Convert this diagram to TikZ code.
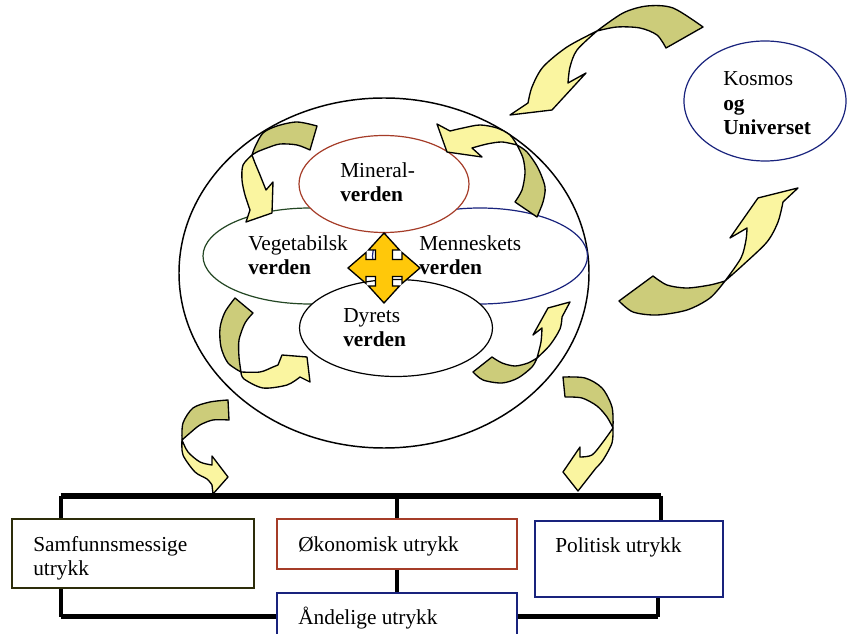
\documentclass[tikz,border=0pt]{standalone}
\usepackage{fontspec}
\setmainfont{Liberation Serif}
\usetikzlibrary{shapes.geometric}

\definecolor{minred}{RGB}{165,60,40}
\definecolor{veggreen}{RGB}{35,70,35}
\definecolor{menblue}{RGB}{25,35,125}
\definecolor{samfline}{RGB}{45,45,10}
\definecolor{frontyellow}{RGB}{250,245,160}
\definecolor{backolive}{RGB}{204,204,122}
\definecolor{crossgold}{RGB}{255,200,10}

\tikzset{
  world/.style={ellipse, draw, fill=white, inner sep=0pt, line width=0.9pt},
  txt/.style={anchor=base west, align=left, inner sep=0pt, font=\fontsize{16}{18.5}\selectfont},
  box/.style={rectangle, draw, fill=white, inner sep=0pt, line width=1.2pt},
  back/.style={draw=black, fill=backolive, line width=1pt, line join=round},
  front/.style={draw=black, fill=frontyellow, line width=1pt, line join=round},
  bus/.style={line width=4.5pt},
  drop/.style={line width=3pt},
}

\begin{document}
\begin{tikzpicture}[x=0.75pt, y=-0.75pt]
  \useasboundingbox (0,0) rectangle (847,634);

  % the big world and its four parts
  \node[world, line width=1.1pt, minimum width=307.5pt, minimum height=262.5pt] (sphere) at (384,273) {};
  \node[world, draw=veggreen, minimum width=160.5pt, minimum height=72pt] (veg) at (310,256) {};
  \node[world, draw=menblue, minimum width=161.25pt, minimum height=72pt] (men) at (480,256) {};
  \node[world, draw=minred, minimum width=127.5pt, minimum height=72.75pt] (min) at (384,184) {};
  \node[world, minimum width=144.75pt, minimum height=72.75pt] (dyr) at (396,328) {};

  % (base of a text node = its last line)
  \node[txt] (min-txt) at (340,202) {Mineral-\\\textbf{verden}};
  \node[txt] (veg-txt) at (248,275) {Vegetabilsk\\\textbf{verden}};
  \node[txt] (men-txt) at (419,275) {Menneskets\\\textbf{verden}};
  \node[txt] (dyr-txt) at (343,347) {Dyrets\\\textbf{verden}};

  % four way arrow in the middle
  \filldraw[fill=crossgold, line width=1pt, line join=miter, shift={(384,268)}]
    (0,-35) -- (15.5,-18) -- (8.5,-18) -- (8.5,-8.5) -- (18,-8.5) -- (18,-15.5) -- (36,0)
    -- (18,15.5) -- (18,8.5) -- (8.5,8.5) -- (8.5,18) -- (15.5,18) -- (0,35)
    -- (-15.5,18) -- (-8.5,18) -- (-8.5,8.5) -- (-18,8.5) -- (-18,15.5) -- (-36,0)
    -- (-18,-15.5) -- (-18,-8.5) -- (-8.5,-8.5) -- (-8.5,-18) -- (-15.5,-18) -- cycle;

  \node[world, draw=menblue, minimum width=121.5pt, minimum height=90pt] (kosmos) at (765,101) {};
  \node[txt] (kosmos-txt) at (723,135) {Kosmos\\\textbf{og}\\\textbf{Universet}};

  % curved arrows
  \filldraw[back] (597,31) -- plot[smooth] coordinates {(597,31) (623,13) (647,6) (673,8) (703,27)} -- (666,48)
    -- plot[smooth] coordinates {(666,48) (657,35) (640,28) (617,27) (597,31)} -- cycle;
  \filldraw[front] (597,31) -- plot[smooth] coordinates {(597,31) (567,47) (543,67) (532,87) (528,103)}
    -- (510,115) -- (552,110) -- (586,73) -- (568,83)
    -- plot[smooth] coordinates {(568,83) (570,67) (577,50) (597,31)} -- cycle;

  \filldraw[back] (725,281) -- plot[smooth] coordinates {(725,281) (710,298) (687,310) (657,315) (633,312) (619,301)} -- (653,276)
    -- plot[smooth] coordinates {(653,276) (667,285) (687,288) (710,285) (725,281)} -- cycle;
  \filldraw[front] (725,281) -- plot[smooth] coordinates {(725,281) (743,265) (767,242) (778,222) (783,202)}
    -- (798,188) -- (758,198) -- (730,238) -- (747,228)
    -- plot[smooth] coordinates {(747,228) (746,240) (741,258) (725,281)} -- cycle;

  \filldraw[back] (252,155) -- plot[smooth] coordinates {(252,155) (255,147) (263,133) (277,126) (297,122) (317,126)} -- (310,150)
    -- plot[smooth] coordinates {(310,150) (297,145) (280,144) (267,148) (257,152) (252,155)} -- cycle;
  \filldraw[front] (252,155) -- plot[smooth] coordinates {(252,155) (243,165) (242,180) (245,195) (250,210)}
    -- (246,222) -- (272,213) -- (273,182) -- (266,190)
    -- plot[smooth] coordinates {(266,190) (260,175) (255,163) (252,155)} -- cycle;

  \filldraw[back] (517,145) -- plot[smooth] coordinates {(517,145) (527,152) (538,168) (545,187) (543,202) (537,217)} -- (515,202)
    -- plot[smooth] coordinates {(515,202) (522,190) (525,173) (523,158) (517,145)} -- cycle;
  \filldraw[front] (517,145) -- plot[smooth] coordinates {(517,145) (510,135) (497,128) (480,125) (463,128) (450,131)}
    -- (437,124) -- (447,152) -- (482,157) -- (472,148)
    -- plot[smooth] coordinates {(472,148) (487,144) (502,142) (517,145)} -- cycle;

  \filldraw[back] (241,372) -- plot[smooth] coordinates {(241,372) (228,363) (221,347) (220,328) (225,312) (235,298)} -- (253,313)
    -- plot[smooth] coordinates {(253,313) (245,323) (239,340) (239,357) (241,372)} -- cycle;
  \filldraw[front] (241,372) -- plot[smooth] coordinates {(241,372) (244,379) (263,388) (287,385) (300,377)}
    -- (310,382) -- (307,357) -- (282,355) -- (278,365)
    -- plot[smooth] coordinates {(278,365) (273,367) (260,372) (241,372)} -- cycle;

  \filldraw[back] (537,358) -- plot[smooth] coordinates {(537,358) (532,367) (518,378) (502,383) (483,380) (473,372)} -- (492,357)
    -- plot[smooth] coordinates {(492,357) (502,363) (515,366) (528,363) (537,358)} -- cycle;
  \filldraw[front] (537,358) -- plot[smooth] coordinates {(537,358) (550,345) (560,329) (562,317)}
    -- (570,302) -- (548,308) -- (533,335) -- (542,328)
    -- plot[smooth] coordinates {(542,328) (541,342) (537,358)} -- cycle;

  \filldraw[back] (182,440) -- plot[smooth] coordinates {(182,440) (183,423) (193,408) (210,402) (228,400)} -- (229,420)
    -- plot[smooth] coordinates {(229,420) (213,420) (200,425) (190,433) (182,440)} -- cycle;
  \filldraw[front] (182,440) -- plot[smooth] coordinates {(182,440) (183,455) (195,472) (207,479) (212,485)}
    -- (213,494) -- (228,477) -- (212,456) -- (212,465)
    -- plot[smooth] coordinates {(212,465) (200,462) (188,452) (182,440)} -- cycle;

  \filldraw[back] (613,428) -- plot[smooth] coordinates {(613,428) (612,407) (602,388) (585,378) (563,377)} -- (565,397)
    -- plot[smooth] coordinates {(565,397) (582,398) (597,406) (607,417) (613,428)} -- cycle;
  \filldraw[front] (613,428) -- plot[smooth] coordinates {(613,428) (612,443) (603,460) (596,468)}
    -- (578,491) -- (563,472) -- (580,447) -- (580,457)
    -- plot[smooth] coordinates {(580,457) (592,455) (603,442) (613,428)} -- cycle;

  % the four expressions
  \node[box, draw=samfline, minimum width=181.5pt, minimum height=51.75pt] (samf) at (133,553.5) {};
  \node[box, draw=minred, minimum width=180pt, minimum height=37.5pt] (okon) at (397,544) {};
  \node[box, draw=menblue, minimum width=141pt, minimum height=57pt] (polit) at (629,559) {};
  \node[box, draw=menblue, minimum width=180pt, minimum height=42.75pt] (andel) at (397,621.5) {};

  \node[txt] (samf-txt) at (33,576) {Samfunnsmessige\\utrykk};
  \node[txt] (okon-txt) at (298,552) {Økonomisk utrykk};
  \node[txt] (polit-txt) at (555,553) {Politisk utrykk};
  \node[txt] (andel-txt) at (298,624) {Åndelige utrykk};

  \coordinate (busL) at (60.5,496);
  \coordinate (busR) at (660.5,496);
  \coordinate (baseL) at (60.5,617);
  \coordinate (baseR) at (658,617);

  \draw[bus] (busL) -- (busR);
  \draw[drop] (busL) -- (busL |- samf.north);
  \draw[drop] (okon.north |- busL) -- (okon.north);
  \draw[drop] (busR) -- (busR |- polit.north);
  \draw[drop] (okon.south) -- (andel.north);
  \draw[drop] (baseL |- samf.south) -- (baseL);
  \draw[drop] (baseR |- polit.south) -- (baseR);
  \draw[bus, line width=3.75pt] (baseL) -- (andel.west |- baseL);
  \draw[bus, line width=3.75pt] (andel.east |- baseR) -- (baseR);
\end{tikzpicture}
\end{document}
